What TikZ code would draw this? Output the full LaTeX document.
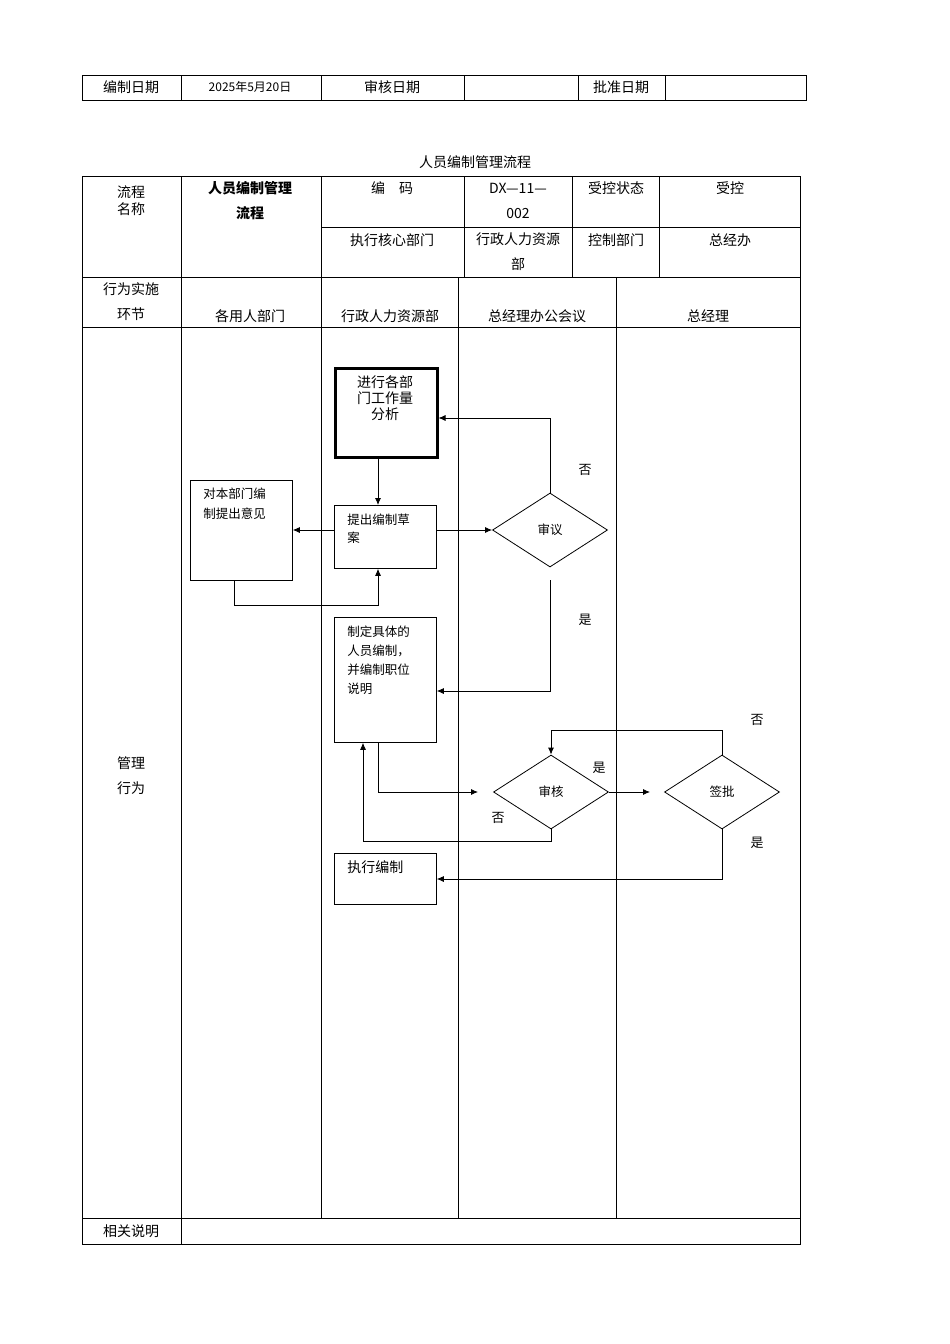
\documentclass[tikz,border=0pt]{standalone}
\usepackage{fontspec}
\setmainfont{Noto Sans CJK SC}
\usetikzlibrary{shapes.geometric,arrows.meta}
\begin{document}
\begin{tikzpicture}[x=1pt,y=-1pt,line width=0.8pt,
  tb/.style={font=\fontsize{14}{17}\selectfont,align=center,inner sep=0},
  fb/.style={draw,anchor=north west,inner sep=0,minimum width=102pt},
  dia/.style={draw,diamond,aspect=1.55,minimum width=115pt,minimum height=74pt,inner sep=0,font=\fontsize{12.5}{15}\selectfont},
  ar/.style={-{Latex[length=7pt,width=6pt]}},
  lb/.style={font=\fontsize{13}{15}\selectfont,inner sep=0}]
\useasboundingbox (0,0) rectangle (950,1344);
% header table
\draw (82,75) rectangle (806,100);
\foreach \x in {181,321,464,578,665} \draw (\x,75)--(\x,100);
\node[tb] (h1) at (131,87) {编制日期};
\node[tb,font=\fontsize{12}{14}\selectfont] (h2) at (250,87) {2025年5月20日};
\node[tb] (h3) at (392,87) {审核日期};
\node[tb] (h4) at (621,87) {批准日期};
\node[tb] (title) at (475,162) {人员编制管理流程};
% main table
\draw (82,176) rectangle (800,1244);
\draw (82,277)--(800,277) (82,327)--(800,327) (82,1218)--(800,1218) (321,227)--(800,227);
\draw (181,176)--(181,1244);
\foreach \x in {321,464,572,659} \draw (\x,176)--(\x,277);
\foreach \x in {321,458,616} \draw (\x,277)--(\x,1218);
\node[tb] (t1) at (131,201) {流程\\名称};
\node[tb,font=\fontsize{14}{25}\selectfont\bfseries] (t2) at (250,201) {人员编制管理\\流程};
\node[tb] (t3) at (392,188) {编\quad 码};
\node[tb,font=\fontsize{14}{25}\selectfont] (t4) at (518,201) {DX—11—\\002};
\node[tb] (t5) at (616,188) {受控状态};
\node[tb] (t6) at (730,188) {受控};
\node[tb] (t7) at (392,240) {执行核心部门};
\node[tb,font=\fontsize{14}{25}\selectfont] (t8) at (518,252) {行政人力资源\\部};
\node[tb] (t9) at (616,240) {控制部门};
\node[tb] (t10) at (730,240) {总经办};
\node[tb,font=\fontsize{14}{25}\selectfont] (t11) at (131,302) {行为实施\\环节};
\node[tb] (t12) at (250,316) {各用人部门};
\node[tb] (t13) at (390,316) {行政人力资源部};
\node[tb] (t14) at (537,316) {总经理办公会议};
\node[tb] (t15) at (708,316) {总经理};
\node[tb,font=\fontsize{14}{25}\selectfont] (t16) at (131,776) {管理\\行为};
\node[tb] (t17) at (131,1231) {相关说明};
% flow
\node[draw,line width=2.5pt,minimum width=102pt,minimum height=89pt,anchor=north west,inner sep=0] (A) at (334,367) {};
\node[align=center,font=\fontsize{14}{16}\selectfont,anchor=north,inner sep=0] (Atxt) at (385,375) {进行各部\\门工作量\\分析};
\node[fb,minimum height=63pt] (B) at (334,505) {};
\node[anchor=north west,align=left,font=\fontsize{12.5}{18}\selectfont,inner sep=0] (Bt) at (347,514) {提出编制草\\案};
\node[fb,minimum height=100pt] (C) at (190,480) {};
\node[anchor=north west,align=left,font=\fontsize{12.5}{20}\selectfont,inner sep=0] (Ct) at (203,488) {对本部门编\\制提出意见};
\node[dia] (D) at (550,530) {审议};
\node[fb,minimum height=125pt] (E) at (334,617) {};
\node[anchor=north west,align=left,font=\fontsize{12.5}{19}\selectfont,inner sep=0] (Et) at (347,626) {制定具体的\\人员编制，\\并编制职位\\说明};
\node[dia] (F) at (551,792) {审核};
\node[dia] (G) at (722,792) {签批};
\node[fb,minimum height=51pt] (H) at (334,853) {};
\node[anchor=north west,font=\fontsize{14}{16}\selectfont,inner sep=0] (Ht) at (347,860) {执行编制};
\coordinate (p1) at (550,580);
\coordinate (p2) at (478,792);
\coordinate (cx) at (234,0);
\coordinate (mx) at (378,0);
\coordinate (lx) at (363,0);
% connectors
\draw[ar] (A.south -| mx) -- (B.north -| mx);
\draw[ar] (D.west -| B.west) -- (D.west -| C.east);
\draw[ar] (C.south -| cx) -- (234,605) -| (B.south -| mx);
\draw[ar] (D.west -| B.east) -- (D.west);
\draw[ar] (D.north) |- (A.east |- 0,418);
\draw[ar] (p1) |- (E.east |- 0,691);
\draw[ar] (E.south -| mx) |- (p2);
\draw[ar] (F.south) -- (551,841) -| (E.south -| lx);
\draw[ar] (F.east) -- (650,792);
\draw[ar] (G.north) |- (551,730) -- (F.north);
\draw[ar] (G.south) |- (H.east |- 0,879);
\node[lb] (l1) at (585,470) {否};
\node[lb] (l2) at (585,620) {是};
\node[lb] (l3) at (599,768) {是};
\node[lb] (l4) at (498,818) {否};
\node[lb] (l5) at (757,720) {否};
\node[lb] (l6) at (757,843) {是};
\end{tikzpicture}
\end{document}
